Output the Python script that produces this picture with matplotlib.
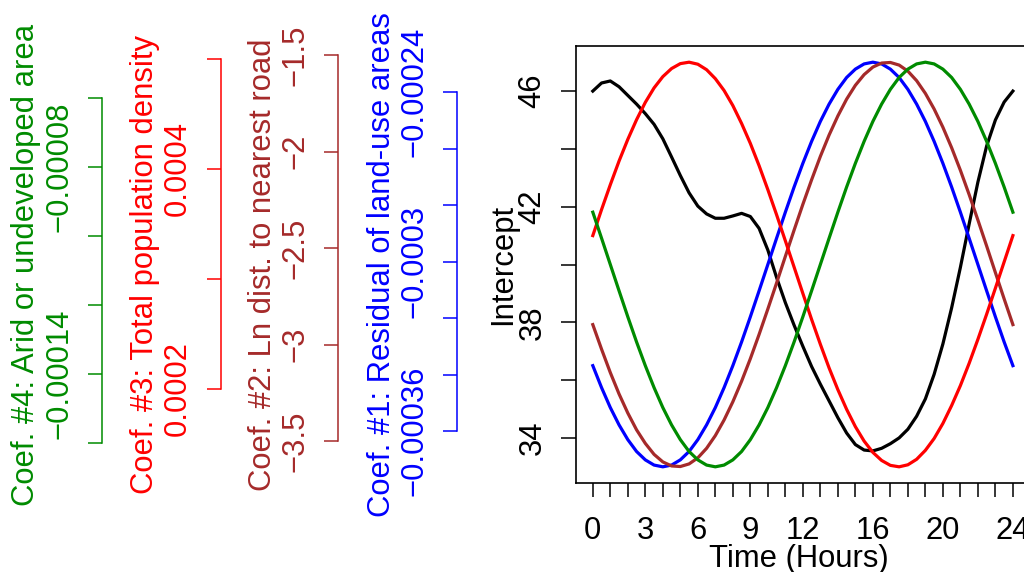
import numpy as np
import matplotlib
matplotlib.use("Agg")
import matplotlib.pyplot as plt

plt.rcParams['font.family'] = ['Liberation Sans', 'DejaVu Sans']

# Data (every half hour)
half_hours = list(np.arange(0, 24.5, 0.5))

intercept = [46.0, 46.28, 46.35, 46.15, 45.85, 45.55, 45.22, 44.85, 44.35, 43.72,
             43.08, 42.48, 42.02, 41.75, 41.6, 41.6, 41.68, 41.77, 41.66, 41.25,
             40.5, 39.55, 38.68, 37.9, 37.17, 36.47, 35.86, 35.28, 34.7, 34.17,
             33.77, 33.58, 33.55, 33.64, 33.8, 34.0, 34.3, 34.75, 35.35, 36.2,
             37.25, 38.5, 39.9, 41.4, 42.85, 44.1, 45.0, 45.62, 46.0]
coef1 = [36.5, 35.74, 35.05, 34.45, 33.94, 33.53, 33.24, 33.06, 33.0, 33.06,
         33.24, 33.53, 33.94, 34.45, 35.05, 35.74, 36.5, 37.32, 38.19, 39.09,
         40.0, 40.91, 41.81, 42.68, 43.5, 44.26, 44.95, 45.55, 46.06, 46.47,
         46.76, 46.94, 47.0, 46.94, 46.76, 46.47, 46.06, 45.55, 44.95, 44.26,
         43.5, 42.68, 41.81, 40.91, 40.0, 39.09, 38.19, 37.32, 36.5]
coef2 = [37.92, 37.07, 36.26, 35.52, 34.86, 34.28, 33.81, 33.43, 33.17, 33.03,
         33.01, 33.1, 33.31, 33.64, 34.08, 34.62, 35.25, 35.96, 36.74, 37.58,
         38.46, 39.36, 40.28, 41.19, 42.08, 42.93, 43.74, 44.48, 45.14, 45.72,
         46.2, 46.57, 46.83, 46.97, 46.99, 46.9, 46.69, 46.36, 45.92, 45.38,
         44.75, 44.04, 43.26, 42.42, 41.54, 40.64, 39.72, 38.81, 37.92]
coef3 = [41.0, 41.9, 42.76, 43.58, 44.33, 45.01, 45.61, 46.11, 46.5, 46.78,
         46.95, 47.0, 46.93, 46.74, 46.43, 46.02, 45.5, 44.88, 44.19, 43.42,
         42.59, 41.72, 40.82, 39.91, 39.0, 38.1, 37.24, 36.42, 35.67, 34.99,
         34.39, 33.89, 33.5, 33.22, 33.05, 33.0, 33.07, 33.26, 33.57, 33.98,
         34.5, 35.12, 35.81, 36.58, 37.41, 38.28, 39.18, 40.09, 41.0]
coef4 = [41.81, 40.91, 40.0, 39.09, 38.19, 37.32, 36.5, 35.74, 35.05, 34.45,
         33.94, 33.53, 33.24, 33.06, 33.0, 33.06, 33.24, 33.53, 33.94, 34.45,
         35.05, 35.74, 36.5, 37.32, 38.19, 39.09, 40.0, 40.91, 41.81, 42.68,
         43.5, 44.26, 44.95, 45.55, 46.06, 46.47, 46.76, 46.94, 47.0, 46.94,
         46.76, 46.47, 46.06, 45.55, 44.95, 44.26, 43.5, 42.68, 41.81]

hours = list(range(25))
x_labels = {0: '0', 3: '3', 6: '6', 9: '9', 12: '12', 16: '16', 20: '20', 24: '24'}
y_ticks = [34, 36, 38, 40, 42, 44, 46]
y_labels = ['34', '', '38', '', '42', '', '46']

# coefficient scales (drawn as separate axes on the left)
coef1_ticks = [-0.00036, -0.00034, -0.00032, -0.0003, -0.00028, -0.00026, -0.00024]
coef1_labels = ['\u22120.00036', '', '', '\u22120.0003', '', '', '\u22120.00024']
coef2_ticks = [-3.5, -3.0, -2.5, -2.0, -1.5]
coef2_labels = ['\u22123.5', '\u22123', '\u22122.5', '\u22122', '\u22121.5']
coef3_ticks = [0.0002, 0.0003, 0.0004, 0.0005]
coef3_labels = ['0.0002', '', '0.0004', '']
coef4_ticks = [-0.00016, -0.00014, -0.00012, -0.0001, -0.00008, -0.00006]
coef4_labels = ['', '\u22120.00014', '', '', '\u22120.00008', '']

GREEN = '#008B00'
BROWN = '#A52A2A'
W, H = 1024, 572
FS = 22.3

fig = plt.figure(figsize=(W / 100, H / 100), dpi=100)


def fx(px):
    return px / W


def fy(py):
    return 1 - py / H


# main plot
ax = fig.add_axes([fx(576), fy(483), fx(1029.7 - 576), (483 - 46) / H])
ax.plot(half_hours, intercept, color='black', lw=2.3)
ax.plot(half_hours, coef1, color='blue', lw=2.3)
ax.plot(half_hours, coef2, color=BROWN, lw=2.3)
ax.plot(half_hours, coef3, color='red', lw=2.3)
ax.plot(half_hours, coef4, color=GREEN, lw=2.3)
ax.margins(0.04)
ax.set_xticks(hours)
ax.set_xticklabels([x_labels.get(h, '') for h in hours], fontsize=FS)
ax.set_yticks(y_ticks)
ax.set_yticklabels(y_labels, rotation=90, rotation_mode='anchor',
                   ha='center', va='baseline', fontsize=FS)
ax.tick_params(axis='x', length=10, width=1.1, pad=13.8)
ax.tick_params(axis='y', length=10.8, width=1.1, pad=14.8)
for s in ax.spines.values():
    s.set_linewidth(1.2)
fig.text(fx(799), fy(566.5), 'Time (Hours)', ha='center', va='baseline', fontsize=FS)
fig.text(fx(511), fy(264.5), 'Intercept', rotation=90, rotation_mode='anchor',
         ha='center', va='baseline', fontsize=FS)


def side_axis(x, y_top, y_bot, ticks, labels, title, color):
    a = fig.add_axes([fx(x), fy(y_bot), 0.001, (y_bot - y_top) / H])
    a.set_ylim(ticks[0], ticks[-1])
    for s in ['top', 'right', 'bottom']:
        a.spines[s].set_visible(False)
    a.spines['left'].set_color(color)
    a.spines['left'].set_linewidth(1.1)
    a.patch.set_visible(False)
    a.set_xticks([])
    a.set_yticks(ticks)
    a.set_yticklabels(labels, rotation=90, rotation_mode='anchor',
                      ha='center', va='baseline', fontsize=FS, color=color)
    a.tick_params(axis='y', color=color, length=10, width=1.1, pad=14.9)
    fig.text(fx(x - 67.4), fy(264.5), title, rotation=90, rotation_mode='anchor',
             ha='center', va='baseline', fontsize=FS, color=color)


side_axis(101.7, 98, 443, coef4_ticks, coef4_labels,
          'Coef. #4: Arid or undeveloped area', GREEN)
side_axis(220.7, 59, 389, coef3_ticks, coef3_labels,
          'Coef. #3: Total population density', 'red')
side_axis(338, 55, 441, coef2_ticks, coef2_labels,
          'Coef. #2: Ln dist. to nearest road', BROWN)
side_axis(457, 92, 431, coef1_ticks, coef1_labels,
          'Coef. #1: Residual of land-use areas', 'blue')

fig.savefig('out.png', dpi=100)
